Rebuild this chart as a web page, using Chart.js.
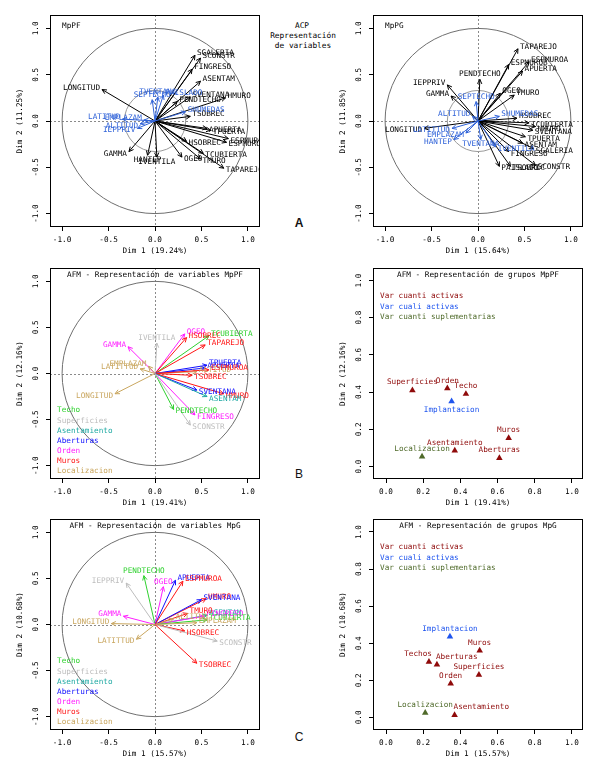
<!DOCTYPE html>
<html>
<head>
<meta charset="utf-8">
<script src="https://cdn.jsdelivr.net/npm/chart.js@4.4.1/dist/chart.umd.min.js"></script>
<style>
  body { margin: 0; background: #fff; width: 600px; height: 777px; position: relative; overflow: hidden; font-family: "DejaVu Sans Mono", monospace; }
  canvas { position: absolute; }
  .t { position: absolute; font-size: 7.8px; color: #000; white-space: nowrap; transform: translate(-50%, -50%); }
  .big { position: absolute; font-family: "Liberation Sans", Arial, sans-serif; font-size: 12px; color: #111; transform: translate(-50%, -50%); }
</style>
</head>
<body>
<div class="t" style="left:302px;top:25px">ACP</div>
<div class="t" style="left:303px;top:35px">Representación</div>
<div class="t" style="left:303px;top:45px">de variables</div>
<div class="big" style="left:299px;top:223px;font-weight:bold">A</div>
<div class="big" style="left:299px;top:474px">B</div>
<div class="big" style="left:299px;top:737px">C</div>
<script>
// ---- ACP MpPF (activas / suplementarias)
const acpPFNames = ["SGALERIA","SCONSTR","FINGRESO","ASENTAM","SVENTANA","HMURO","PENDTECHO","TSOBREC","APUERTA","TPUERTA","ESPMUROA","ESPMUROB","HSOBREC","TCUBIERTA","TMURO","TAPAREJO","OGEO","IVENTILA","HANTEP","GAMMA","LONGITUD","SEPTECHO","TVENTANA","PAISLADO","SHUMEDAS","EMPLAZAM","LATITUD","ALTITUD","IEPPRIV"];
const acpPFDim1 = [0.43,0.49,0.40,0.49,0.38,0.76,0.24,0.38,0.56,0.60,0.79,0.77,0.34,0.52,0.49,0.74,0.29,0.02,-0.08,-0.28,-0.57,-0.03,0.03,0.09,0.33,-0.12,-0.35,-0.16,-0.19];
const acpPFDim2 = [0.71,0.68,0.56,0.43,0.26,0.25,0.21,0.05,-0.08,-0.10,-0.19,-0.23,-0.22,-0.35,-0.41,-0.51,-0.39,-0.39,-0.37,-0.33,0.34,0.23,0.26,0.28,0.10,0.01,0.02,-0.03,-0.08];
const acpPFSup  = [0,0,0,0,0,0,0,0,0,0,0,0,0,0,0,0,0,0,0,0,0,1,1,1,1,1,1,1,1];

// ---- ACP MpPG
const acpPGNames = ["TAPAREJO","ESPMUROA","ESPMUROB","APUERTA","PENDTECHO","IEPPRIV","GAMMA","OGEO","TMURO","HSOBREC","TCUBIERTA","HMURO","SVENTANA","TPUERTA","ASENTAM","SGALERIA","FINGRESO","SCONSTR","TSOBREC","PAISLADO","LONGITUD","SEPTECHO","ALTITUD","SHUMEDAS","IVENTILA","TVENTANA","EMPLAZAM","HANTEP","LATITTUD"];
const acpPGDim1 = [0.43,0.55,0.33,0.48,0.02,-0.33,-0.29,0.24,0.39,0.42,0.55,0.62,0.59,0.51,0.48,0.60,0.33,0.62,0.35,0.23,-0.58,-0.02,-0.06,0.23,0.19,0.03,-0.13,-0.26,-0.28];
const acpPGDim2 = [0.78,0.64,0.61,0.54,0.45,0.39,0.27,0.30,0.28,0.03,-0.02,-0.06,-0.10,-0.17,-0.24,-0.30,-0.33,-0.48,-0.49,-0.49,-0.08,0.21,0.05,0.05,-0.28,-0.20,-0.13,-0.20,-0.08];
const acpPGSup  = [0,0,0,0,0,0,0,0,0,0,0,0,0,0,0,0,0,0,0,0,0,1,1,1,1,1,1,1,1];

// ---- AFM variables MpPF
const afmPFNames = ["OGEO","HSOBREC","TCUBIERTA","TAPAREJO","GAMMA","IVENTILA","EMPLAZAM","LATITTUD","TPUERTA","APUERTA","ALTITUD","ESPMUROA","TSOBREC","SVENTANA","HMURO","ASENTAM","LONGITUD","PENDTECHO","FINGRESO","SCONSTR"];
const afmPFDim1 = [0.32,0.34,0.58,0.54,-0.29,0.02,-0.07,-0.16,0.56,0.54,0.45,0.58,0.40,0.45,0.74,0.56,-0.43,0.20,0.43,0.38];
const afmPFDim2 = [0.43,0.39,0.41,0.31,0.29,0.33,0.08,0.05,0.09,0.06,0.02,0.04,-0.02,-0.18,-0.22,-0.25,-0.22,-0.39,-0.45,-0.56];
const afmPFGroup = ["Orden","Muros","Techo","Muros","Orden","Superficies","Localizacion","Localizacion","Aberturas","Aberturas","Localizacion","Muros","Muros","Aberturas","Muros","Asentamiento","Localizacion","Techo","Orden","Superficies"];

// ---- AFM variables MpG
const afmGNames = ["PENDTECHO","IEPPRIV","OGEO","APUERTA","ESPMUROA","HMURO","SVENTANA","ASENTAM","FINGRESO","TMURO","TCUBIERTA","EMPLAZAM","ALTITUD","HSOBREC","SCONSTR","TSOBREC","GAMMA","LONGITUD","LATITTUD"];
const afmGDim1 = [-0.12,-0.31,0.09,0.22,0.30,0.55,0.50,0.56,0.53,0.35,0.56,0.45,0.20,0.32,0.67,0.45,-0.34,-0.47,-0.20];
const afmGDim2 = [0.53,0.45,0.41,0.48,0.47,0.28,0.27,0.10,0.09,0.12,0.05,0.02,0.06,-0.07,-0.18,-0.42,0.09,0.01,-0.16];
const afmGGroup = ["Techo","Superficies","Orden","Aberturas","Muros","Muros","Aberturas","Asentamiento","Orden","Muros","Techo","Localizacion","Localizacion","Muros","Superficies","Muros","Orden","Localizacion","Localizacion"];

// ---- AFM grupos
const grpPFNames = ["Superficies","Orden","Techo","Implantacion","Muros","Asentamiento","Aberturas","Localizacion"];
const grpPFDim1 = [0.142,0.33,0.43,0.353,0.66,0.37,0.61,0.194];
const grpPFDim2 = [0.41,0.42,0.39,0.35,0.153,0.086,0.045,0.054];
const grpPFType = ["act","act","act","cuali","act","act","act","sup"];
const grpPFLabelSide = ["n","n","n","s","n","n","n","n"];

const grpGNames = ["Implantacion","Muros","Techos","Aberturas","Superficies","Orden","Localizacion","Asentamiento"];
const grpGDim1 = [0.344,0.504,0.231,0.274,0.50,0.348,0.211,0.369];
const grpGDim2 = [0.436,0.36,0.30,0.285,0.23,0.182,0.025,0.013];
const grpGType = ["cuali","act","act","act","act","act","sup","act"];
const grpGLabelSide = ["n","n","nw","ne","n","n","n","ne"];

const varTicks = [-1, -0.5, 0, 0.5, 1];
const grpXTicks = [0, 0.2, 0.4, 0.6, 0.8, 1];
const grpYTicks = [0, 0.2, 0.4, 0.6, 0.8, 1];
const groupOrder = ["Techo","Superficies","Asentamiento","Aberturas","Orden","Muros","Localizacion"];

const groupColors = { Techo: "#2fd12f", Superficies: "#bdbdbd", Asentamiento: "#1fa9a3", Aberturas: "#1010ff", Orden: "#ff1eff", Muros: "#ff1414", Localizacion: "#c9a65e" };
const typeColors = { act: "#8f0a0a", cuali: "#1f55ee", sup: "#4f6a2a" };
const typeLegend = [["Var cuanti activas", "act"], ["Var cuali activas", "cuali"], ["Var cuanti suplementarias", "sup"]];
const FONT = '7.7px "DejaVu Sans Mono", monospace';

function arrow(ctx, x0, y0, x1, y1, color) {
  const ang = Math.atan2(y1 - y0, x1 - x0);
  const len = Math.hypot(x1 - x0, y1 - y0);
  ctx.strokeStyle = color;
  ctx.lineWidth = 1;
  ctx.beginPath();
  ctx.moveTo(x0, y0);
  ctx.lineTo(x1, y1);
  if (len > 3) {
    const h = 5, a = 0.45;
    ctx.moveTo(x1 - h * Math.cos(ang - a), y1 - h * Math.sin(ang - a));
    ctx.lineTo(x1, y1);
    ctx.lineTo(x1 - h * Math.cos(ang + a), y1 - h * Math.sin(ang + a));
  }
  ctx.stroke();
}

function deco(cfg) {
  return {
    id: "deco",
    beforeDatasetsDraw(chart) {
      if (!cfg.vars) return;
      const { ctx, chartArea: a, scales: { x, y } } = chart;
      const cx = x.getPixelForValue(0), cy = y.getPixelForValue(0);
      ctx.save();
      ctx.strokeStyle = "#8a8a8a";
      ctx.lineWidth = 1;
      ctx.setLineDash([2, 2]);
      ctx.beginPath();
      ctx.moveTo(a.left, Math.round(cy) + 0.5); ctx.lineTo(a.right, Math.round(cy) + 0.5);
      ctx.moveTo(Math.round(cx) + 0.5, a.top); ctx.lineTo(Math.round(cx) + 0.5, a.bottom);
      ctx.stroke();
      ctx.setLineDash([]);
      ctx.strokeStyle = "#6f6f6f";
      ctx.beginPath();
      ctx.ellipse(cx, cy, x.getPixelForValue(1) - cx, cy - y.getPixelForValue(1), 0, 0, Math.PI * 2);
      ctx.stroke();
      if (cfg.inner) {
        ctx.strokeStyle = "#9a9a9a";
        ctx.beginPath();
        ctx.ellipse(cx, cy, x.getPixelForValue(cfg.inner) - cx, cy - y.getPixelForValue(cfg.inner), 0, 0, Math.PI * 2);
        ctx.stroke();
      }
      ctx.restore();
    },
    afterDatasetsDraw(chart) {
      const { ctx, chartArea: a, scales: { x, y } } = chart;
      ctx.save();
      ctx.font = FONT;
      ctx.beginPath();
      ctx.rect(a.left, a.top, a.right - a.left, a.bottom - a.top);
      ctx.clip();
      if (cfg.vars) {
        const v = cfg.vars;
        const cx = x.getPixelForValue(0), cy = y.getPixelForValue(0);
        v.names.forEach((n, i) => {
          const px = x.getPixelForValue(v.xs[i]), py = y.getPixelForValue(v.ys[i]);
          arrow(ctx, cx, cy, px, py, v.colors[i]);
        });
        v.names.forEach((n, i) => {
          const px = x.getPixelForValue(v.xs[i]), py = y.getPixelForValue(v.ys[i]);
          const dx = v.xs[i], dy = v.ys[i];
          ctx.fillStyle = v.colors[i];
          if (Math.abs(dx) < 0.3 * Math.abs(dy)) {
            ctx.textAlign = "center";
            ctx.textBaseline = dy > 0 ? "bottom" : "top";
            ctx.fillText(n, px, py + (dy > 0 ? -1 : 1));
          } else {
            ctx.textAlign = dx >= 0 ? "left" : "right";
            ctx.textBaseline = "middle";
            ctx.fillText(n, px + (dx >= 0 ? 2 : -2), py + (dy >= 0 ? -2 : 2));
          }
        });
      }
      if (cfg.pts) {
        const p = cfg.pts;
        p.names.forEach((n, i) => {
          const px = x.getPixelForValue(p.xs[i]), py = y.getPixelForValue(p.ys[i]);
          const side = p.side[i];
          ctx.fillStyle = p.colors[i];
          ctx.textBaseline = side === "s" ? "top" : "bottom";
          ctx.textAlign = side === "ne" ? "left" : side === "nw" ? "right" : "center";
          const ox = side === "ne" ? -1 : side === "nw" ? 3 : 0;
          ctx.fillText(n, px + ox, side === "s" ? py + 5 : py - 4);
        });
      }
      ctx.restore();

      ctx.save();
      ctx.font = FONT;
      // box
      ctx.strokeStyle = "#000";
      ctx.lineWidth = 1;
      ctx.strokeRect(Math.round(a.left) + 0.5, Math.round(a.top) + 0.5, Math.round(a.right - a.left) - 1, Math.round(a.bottom - a.top) - 1);
      ctx.fillStyle = "#000";
      // tick labels
      ctx.textAlign = "center";
      ctx.textBaseline = "middle";
      cfg.xticks.forEach(v => ctx.fillText(v.toFixed(1), x.getPixelForValue(v), a.bottom + 13));
      cfg.yticks.forEach(v => {
        ctx.save();
        ctx.translate(a.left - 14, y.getPixelForValue(v));
        ctx.rotate(-Math.PI / 2);
        ctx.fillText(v.toFixed(1), 0, 0);
        ctx.restore();
      });
      // axis titles
      ctx.fillText(cfg.xlab, (a.left + a.right) / 2, a.bottom + 24.5);
      ctx.save();
      ctx.translate(a.left - 30, (a.top + a.bottom) / 2);
      ctx.rotate(-Math.PI / 2);
      ctx.fillText(cfg.ylab, 0, 0);
      ctx.restore();
      // title
      if (cfg.titleLeft) {
        ctx.textAlign = "left";
        ctx.fillText(cfg.title, a.left + 12, a.top + 11);
      } else {
        ctx.fillText(cfg.title, (a.left + a.right) / 2, a.top + 7);
      }
      // legend
      if (cfg.legend) {
        ctx.textAlign = "left";
        const y0 = cfg.legendTop ? a.top + 28.5 : a.bottom - 68.5;
        cfg.legend.forEach(([txt, col], i) => {
          ctx.fillStyle = col;
          ctx.fillText(txt, a.left + 7, y0 + i * 10.1);
        });
      }
      ctx.restore();
    }
  };
}

function panel(box, cfg) {
  const cv = document.createElement("canvas");
  const W = box.w + 50, H = box.h + 40;
  cv.width = W; cv.height = H;
  cv.style.left = (box.l - 45) + "px";
  cv.style.top = (box.t - 5) + "px";
  cv.style.width = W + "px";
  cv.style.height = H + "px";
  document.body.appendChild(cv);
  const axis = (lim, ticks, size, horiz) => ({
    type: "linear", min: lim[0], max: lim[1],
    afterBuildTicks: s => { s.ticks = ticks.map(v => ({ value: v })); },
    afterFit: s => { if (horiz) s.height = size; else s.width = size; },
    ticks: { display: false },
    grid: { drawOnChartArea: false, drawTicks: true, tickLength: 4, color: "#000", lineWidth: 1 },
    border: { display: false }
  });
  return new Chart(cv, {
    type: "scatter",
    data: { datasets: cfg.datasets || [] },
    options: {
      responsive: false, animation: false, events: [],
      layout: { padding: { top: 5, right: 5, left: 0, bottom: 0 } },
      plugins: { legend: { display: false }, tooltip: { enabled: false } },
      scales: {
        x: axis(cfg.xlim, cfg.xticks, 35, true),
        y: axis(cfg.ylim, cfg.yticks, 45, false)
      }
    },
    plugins: [deco(cfg)]
  });
}

const VL = [-1.13, 1.13], VLy = [-1.145, 1.145];
const groupLegend = groupOrder.map(g => [g, groupColors[g]]);

panel({ l: 50, t: 15, w: 210, h: 212 }, {
  xlim: VL, ylim: VLy, xticks: varTicks, yticks: varTicks, inner: 0.33,
  xlab: "Dim 1 (19.24%)", ylab: "Dim 2 (11.25%)", title: "MpPF", titleLeft: true,
  vars: { names: acpPFNames, xs: acpPFDim1, ys: acpPFDim2, colors: acpPFSup.map(s => s ? "#2f62d8" : "#000") }
});
panel({ l: 373, t: 15, w: 210, h: 212 }, {
  xlim: VL, ylim: VLy, xticks: varTicks, yticks: varTicks, inner: 0.33,
  xlab: "Dim 1 (15.64%)", ylab: "Dim 2 (11.85%)", title: "MpPG", titleLeft: true,
  vars: { names: acpPGNames, xs: acpPGDim1, ys: acpPGDim2, colors: acpPGSup.map(s => s ? "#2f62d8" : "#000") }
});
panel({ l: 50, t: 268, w: 210, h: 211 }, {
  xlim: VL, ylim: VLy, xticks: varTicks, yticks: varTicks,
  xlab: "Dim 1 (19.41%)", ylab: "Dim 2 (12.16%)", title: "AFM - Representación de variables MpPF",
  vars: { names: afmPFNames, xs: afmPFDim1, ys: afmPFDim2, colors: afmPFGroup.map(g => groupColors[g]) },
  legend: groupLegend
});
panel({ l: 373, t: 268, w: 210, h: 211 }, {
  xlim: [-0.07, 1.06], ylim: [-0.067, 1.067], xticks: grpXTicks, yticks: grpYTicks,
  xlab: "Dim 1 (19.41%)", ylab: "Dim 2 (12.16%)", title: "AFM - Representación de grupos MpPF",
  pts: { names: grpPFNames, xs: grpPFDim1, ys: grpPFDim2, side: grpPFLabelSide, colors: grpPFType.map(t => typeColors[t]) },
  legend: typeLegend.map(([t, k]) => [t, typeColors[k]]), legendTop: true,
  datasets: [{
    data: grpPFDim1.map((v, i) => ({ x: v, y: grpPFDim2[i] })),
    pointStyle: "triangle", pointRadius: 3.8, pointBorderWidth: 0,
    pointBackgroundColor: grpPFType.map(t => typeColors[t])
  }]
});
panel({ l: 50, t: 519, w: 210, h: 211 }, {
  xlim: VL, ylim: VLy, xticks: varTicks, yticks: varTicks,
  xlab: "Dim 1 (15.57%)", ylab: "Dim 2 (10.68%)", title: "AFM - Representación de variables MpG",
  vars: { names: afmGNames, xs: afmGDim1, ys: afmGDim2, colors: afmGGroup.map(g => groupColors[g]) },
  legend: groupLegend
});
panel({ l: 373, t: 519, w: 210, h: 211 }, {
  xlim: [-0.07, 1.06], ylim: [-0.068, 1.07], xticks: grpXTicks, yticks: grpYTicks,
  xlab: "Dim 1 (15.57%)", ylab: "Dim 2 (10.68%)", title: "AFM - Representación de grupos MpG",
  pts: { names: grpGNames, xs: grpGDim1, ys: grpGDim2, side: grpGLabelSide, colors: grpGType.map(t => typeColors[t]) },
  legend: typeLegend.map(([t, k]) => [t, typeColors[k]]), legendTop: true,
  datasets: [{
    data: grpGDim1.map((v, i) => ({ x: v, y: grpGDim2[i] })),
    pointStyle: "triangle", pointRadius: 3.8, pointBorderWidth: 0,
    pointBackgroundColor: grpGType.map(t => typeColors[t])
  }]
});
</script>
</body>
</html>
